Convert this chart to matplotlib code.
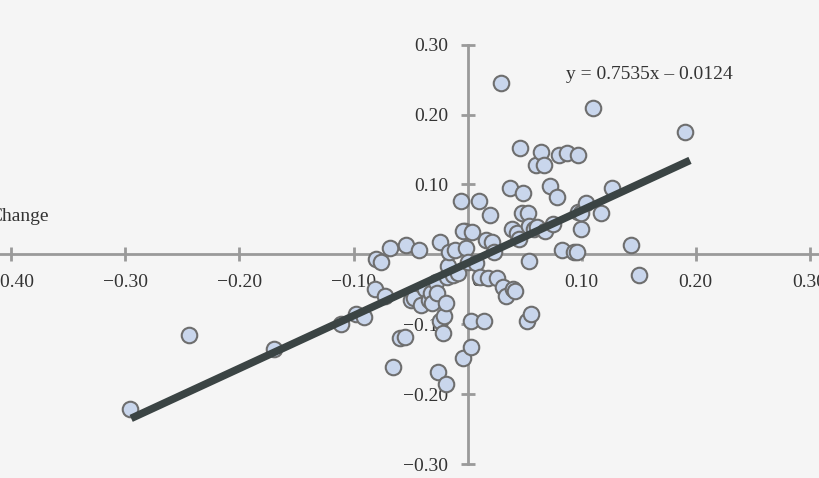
import matplotlib
matplotlib.use("Agg")
import matplotlib.pyplot as plt
import numpy as np

px = [130,189,273,340,355,363,376,375,380,385,390,393,400,405,404,410,413,418,420,425,428,430,432,435,436,440,437,440,442,443,445,447,448,449,445,452,455,458,460,465,462,463,466,467,470,470,471,475,478,480,483,485,487,490,491,493,497,500,502,506,509,511,513,515,516,518,520,522,523,526,527,528,529,531,533,535,536,540,543,544,549,552,556,558,562,566,573,577,578,580,578,580,585,592,600,612,630,638,685]
py = [408,335,349,323,314,317,258,289,262,295,248,366,337,244,336,300,298,250,305,289,300,292,303,282,292,242,372,320,332,315,303,277,265,252,383,274,250,272,200,231,230,357,248,262,321,346,232,263,200,276,320,240,278,215,242,251,278,83,287,295,188,228,288,290,233,239,148,213,193,321,213,226,261,314,229,165,227,152,165,230,186,223,197,155,250,153,251,252,155,228,212,213,203,108,213,188,245,274,132]
x_vals = [round((p - 467) / 1140, 3) for p in px]
y_vals = [round((254 - p) / 697, 3) for p in py]
slope, intercept = 0.7535, -0.0124
x_ticks = [-0.40, -0.30, -0.20, -0.10, 0.10, 0.20, 0.30]
y_ticks = [-0.30, -0.20, -0.10, 0.10, 0.20, 0.30]

plt.rcParams['font.family'] = ['Liberation Serif', 'DejaVu Serif']
fig = plt.figure(figsize=(8.2, 4.78), dpi=100, facecolor='#f5f5f5')
ax = fig.add_axes([0, 0, 1, 1])
ax.set_facecolor('#f5f5f5')
ax.set_xlim(-0.41, 0.309)
ax.set_ylim(-0.32, 0.364)
for s in ['top', 'right']:
    ax.spines[s].set_visible(False)
for s in ['left', 'bottom']:
    ax.spines[s].set_position(('data', 0))
    ax.spines[s].set_color('#9a9a9a')
    ax.spines[s].set_linewidth(2)
ax.spines['left'].set_bounds(-0.30, 0.30)
ax.set_xticks(x_ticks)
ax.set_xticklabels([f"{t:.2f}".replace('-', '\u2212') for t in x_ticks])
ax.set_yticks(y_ticks)
ax.set_yticklabels([f"{t:.2f}".replace('-', '\u2212') for t in y_ticks])
ax.tick_params(direction='inout', length=10, width=2, color='#9a9a9a',
               labelsize=14, labelcolor='#333333', pad=9)
ax.text(0.003, -0.026, "0.00", fontsize=14, color='#333333', va='top', ha='left')

ax.scatter(x_vals, y_vals, s=125, facecolor='#c9d6ec', edgecolor='#6e6e6e',
           linewidth=1.5, zorder=3)
lx = np.array([-0.295, 0.195])
ax.plot(lx, slope * lx + intercept, color='#3b4444', linewidth=5.5,
        solid_capstyle='butt', zorder=4)
ax.text(0.086, 0.258, "y = 0.7535x \u2013 0.0124", fontsize=14, color='#333333', va='center')
ax.text(-0.367, 0.054, "Change", fontsize=14, color='#333333', va='center', ha='right')
fig.savefig("out.png", dpi=100, facecolor=fig.get_facecolor())
